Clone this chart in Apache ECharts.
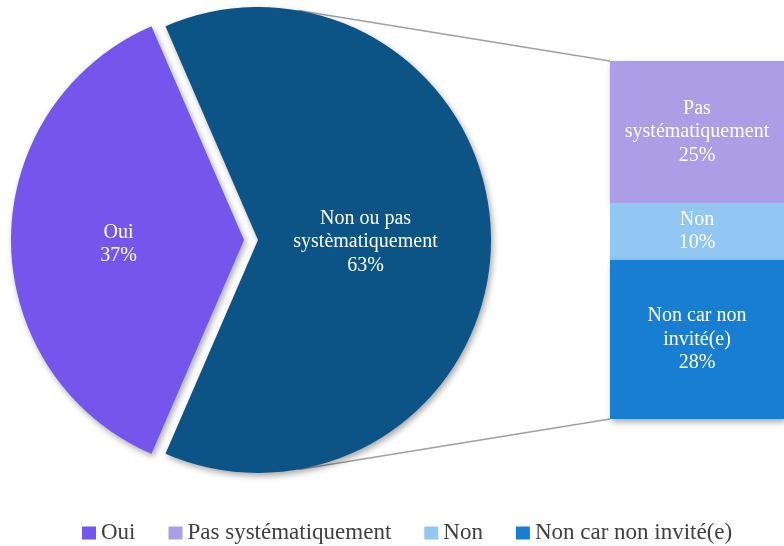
<!DOCTYPE html>
<html>
<head>
<meta charset="utf-8">
<script src="https://cdn.jsdelivr.net/npm/echarts@6/dist/echarts.min.js"></script>
<style>
  html, body { margin: 0; padding: 0; background: #fff; }
  #chart { width: 784px; height: 546px; }
</style>
</head>
<body>
<div id="chart"></div>
<script>
// pie part
var pieNames = ['Oui', 'Non ou pas systèmatiquement'];
var pieLabels = ['Oui', 'Non ou pas\nsystèmatiquement'];
var pieValues = [37, 63];
var pieColors = ['#7456ec', '#0c5386'];

// breakdown of "Non ou pas systèmatiquement"
var barNames = ['Pas systématiquement', 'Non', 'Non car non invité(e)'];
var barLabels = ['Pas\nsystématiquement', 'Non', 'Non car non\ninvité(e)'];
var barValues = [25, 10, 28];
var barColors = ['#ac9de7', '#92c6f3', '#187ed2'];

var legendNames = ['Oui', 'Pas systématiquement', 'Non', 'Non car non invité(e)'];

var font = 'Liberation Serif';
var cx = 258, cy = 240, r = 233;
var barLeft = 610, barTop = 61, barHeight = 358;
var pieLabelShift = [[-6, 4], [-12, 2]];

var total = pieValues[0] + pieValues[1];
var startAngle = 180 + pieValues[0] / total * 180;

var shadow = {
    shadowBlur: 6,
    shadowOffsetX: 2,
    shadowOffsetY: 3,
    shadowColor: 'rgba(0,0,0,0.35)'
};

var pieData = pieValues.map(function (v, i) {
    var st = Object.assign({ color: pieColors[i] }, shadow);
    return {
        name: pieNames[i],
        value: v,
        selected: i === 0,
        itemStyle: st,
        label: { offset: pieLabelShift[i] },
        select: { itemStyle: st, label: { offset: pieLabelShift[i] } }
    };
});

var series = [{
    type: 'pie',
    center: [cx, cy],
    radius: r,
    startAngle: startAngle,
    clockwise: true,
    selectedMode: 'single',
    selectedOffset: 14,
    emphasis: { disabled: true },
    label: {
        position: 'inside',
        color: '#fff',
        fontFamily: font,
        fontSize: 20,
        lineHeight: 23.5,
        formatter: function (p) {
            return pieLabels[p.dataIndex] + '\n' + p.value + '%';
        }
    },
    labelLine: { show: false },
    data: pieData
}];

barValues.forEach(function (v, i) {
    series.push({
        type: 'bar',
        name: barNames[i],
        stack: 'non',
        barWidth: '100%',
        itemStyle: Object.assign({ color: barColors[i] }, i === 1 ? {} : shadow),
        emphasis: { disabled: true },
        label: {
            show: true,
            position: 'inside',
            color: '#fff',
            fontFamily: font,
            fontSize: 20,
            lineHeight: 23.5,
            formatter: barLabels[i] + '\n' + v + '%'
        },
        data: [v]
    });
});

function circlePoint(deg) {
    var a = deg * Math.PI / 180;
    return [cx + r * Math.cos(a), cy - r * Math.sin(a)];
}
var pTop = circlePoint(80), pBottom = circlePoint(-80);

var chart = echarts.init(document.getElementById('chart'));
chart.setOption({
    animation: false,
    backgroundColor: '#fff',
    color: [pieColors[0]].concat(barColors),
    grid: { left: barLeft, top: barTop, width: 179, height: barHeight },
    xAxis: { type: 'category', data: [''], show: false },
    yAxis: { type: 'value', min: 0, max: barValues[0] + barValues[1] + barValues[2], inverse: true, show: false },
    legend: {
        data: legendNames,
        left: 77,
        top: 516,
        icon: 'rect',
        itemWidth: 14,
        itemHeight: 13,
        itemGap: 33,
        textStyle: { fontFamily: font, fontSize: 23, lineHeight: 24, color: '#404040' }
    },
    graphic: [
        { type: 'line', z: 0, shape: { x1: pTop[0], y1: pTop[1], x2: barLeft, y2: barTop }, style: { stroke: '#a0a0a0', lineWidth: 1.5 } },
        { type: 'line', z: 0, shape: { x1: pBottom[0], y1: pBottom[1], x2: barLeft, y2: barTop + barHeight }, style: { stroke: '#a0a0a0', lineWidth: 1.5 } }
    ],
    series: series
});
</script>
</body>
</html>
